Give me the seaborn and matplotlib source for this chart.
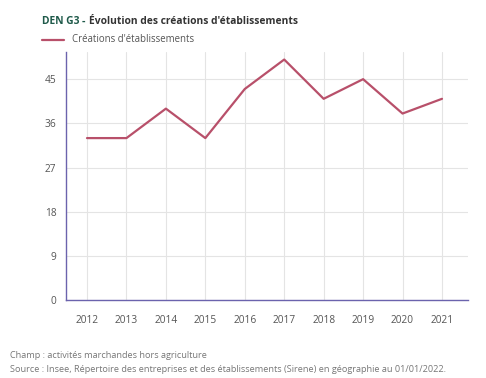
import matplotlib
matplotlib.use("Agg")
import matplotlib.pyplot as plt
import seaborn as sns
import pandas as pd

years = [2012, 2013, 2014, 2015, 2016, 2017, 2018, 2019, 2020, 2021]
creations = [33, 33, 39, 33, 43, 49, 41, 45, 38, 41]
yticks = [0, 9, 18, 27, 36, 45]

sns.set_theme(style="white")
plt.rcParams['font.family'] = ['Open Sans', 'DejaVu Sans']

df = pd.DataFrame({"annee": years, "val": creations})

fig = plt.figure(figsize=(4.86, 3.78), dpi=100)
fig.patch.set_facecolor("white")
ax = fig.add_axes([0.136, 0.206, 0.827, 0.656])

sns.lineplot(data=df, x="annee", y="val", ax=ax, color="#b8506a", linewidth=1.6)

ax.set_xlim(2011.47, 2021.66)
ax.set_ylim(0, 50.5)
ax.set_xticks(years)
ax.set_xticklabels([str(y) for y in years], fontsize=7.3, color="#555555")
ax.set_yticks(yticks)
ax.set_yticklabels([str(t) for t in yticks], fontsize=7.3, color="#555555")
ax.tick_params(axis="x", length=0, pad=11)
ax.tick_params(axis="y", length=0, pad=7)
ax.grid(True, color="#e4e4e4", linewidth=0.8)
ax.set_xlabel("")
ax.set_ylabel("")
for s in ["top", "right"]:
    ax.spines[s].set_visible(False)
ax.spines["left"].set_color("#6b63ad")
ax.spines["bottom"].set_color("#6b63ad")
ax.spines["left"].set_linewidth(1.0)
ax.spines["bottom"].set_linewidth(1.0)

t1 = fig.text(42/486, 1-21/378, "DEN G3 -", fontsize=7.4, fontweight="bold",
              color="#1f5a4a", va="center", ha="left")
fig.canvas.draw()
bb = t1.get_window_extent(renderer=fig.canvas.get_renderer())
x2 = (bb.x1 + 4) / fig.bbox.width
fig.text(x2, 1-21/378, "Évolution des créations d'établissements", fontsize=7.4,
         fontweight="bold", color="#333333", va="center", ha="left")
fig.add_artist(plt.Line2D([42/486, 64/486], [1-40/378, 1-40/378], color="#b8506a", linewidth=1.6))
fig.text(72/486, 1-40/378, "Créations d'établissements", fontsize=6.9, color="#555555",
         va="center", ha="left")

fig.text(10/486, 1-355/378, "Champ : activités marchandes hors agriculture", fontsize=6.6,
         color="#777777", va="center", ha="left")
fig.text(10/486, 1-370/378,
         "Source : Insee, Répertoire des entreprises et des établissements (Sirene) en géographie au 01/01/2022.",
         fontsize=6.6, color="#777777", va="center", ha="left")

fig.savefig("out.png", dpi=100)
